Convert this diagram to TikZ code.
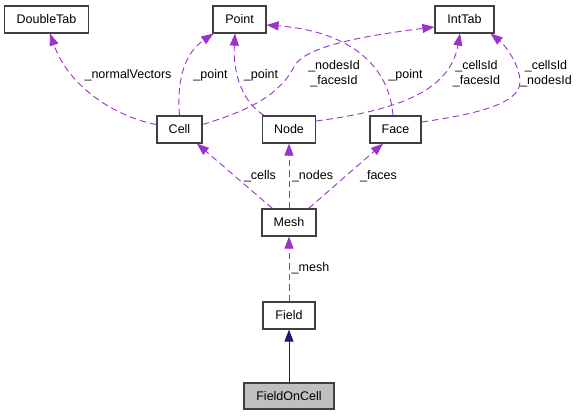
\documentclass[tikz,border=0pt]{standalone}
\usepackage{fontspec}
\setmainfont{Liberation Sans}
\usetikzlibrary{arrows.meta}
\definecolor{depcol}{HTML}{9A32CD}
\definecolor{inhcol}{HTML}{191970}
\definecolor{boxline}{HTML}{404040}
\newcommand{\lblfont}{\fontsize{12.5}{15}\selectfont}
\begin{document}
\begin{tikzpicture}[x=1pt,y=-1pt,
  box/.style={draw=boxline, line width=1.2pt, fill=white, minimum height=27pt, inner sep=0pt, font=\lblfont},
  dep/.style={draw=depcol, line width=0.9pt, dash pattern=on 6.5pt off 4pt, -{Triangle[length=12pt,width=9pt,fill=depcol]}},
  inh/.style={draw=inhcol, line width=0.9pt, -{Triangle[length=12pt,width=9pt,fill=inhcol]}},
  lbl/.style={inner sep=0pt, align=center, font=\lblfont}]
\fill[white] (0,0) rectangle (580,416);
\path[use as bounding box] (0,0) rectangle (580,416);

\node[box, minimum width=84pt] (DoubleTab) at (46.5,19.5) {DoubleTab};
\node[box, minimum width=53pt] (Point) at (239.5,19.5) {Point};
\node[box, minimum width=59pt] (IntTab) at (464.5,19.5) {IntTab};
\node[box, minimum width=45pt] (Cell) at (179.5,129.5) {Cell};
\node[box, minimum width=53pt] (Node) at (289,129.5) {Node};
\node[box, minimum width=51pt] (Face) at (395.5,129.5) {Face};
\node[box, minimum width=54pt] (Mesh) at (289,222.5) {Mesh};
\node[box, minimum width=52pt] (Field) at (289,315.5) {Field};
\node[box, minimum width=90pt, minimum height=26pt, fill=black!25] (FieldOnCell) at (289,396) {FieldOnCell};

% Cell -> DoubleTab
\draw[dep] ([yshift=5pt]Cell.west) .. controls (120,118) and (70,90) .. ([xshift=3.5pt]DoubleTab.south);
\node[lbl] (l1) at (128,75) {\_normalVectors};
% Cell -> Point
\draw[dep] (Cell.north) .. controls (177,85) and (182,55) .. ([xshift=1pt]Point.south west);
\node[lbl] (l2) at (210.5,75) {\_point};
% Node -> Point
\draw[dep] ([xshift=2pt]Node.north west) .. controls (240,100) and (233,70) .. ([xshift=-4.5pt]Point.south);
\node[lbl] (l3) at (261,75) {\_point};
% Cell -> IntTab
\draw[dep] ([yshift=5pt]Cell.east) .. controls (250,110) and (280,95) .. (295,65) .. controls (308,45) and (370,35) .. ([yshift=-7.5pt]IntTab.west);
\node[lbl] (l4) at (334,74) {\_nodesId\\\_facesId};
% Face -> Point
\draw[dep] ([xshift=-2.5pt]Face.north) .. controls (388,55) and (335,30) .. ([yshift=-5.5pt]Point.east);
\node[lbl] (l5) at (405.5,75) {\_point};
% Node -> IntTab
\draw[dep] ([yshift=8.5pt]Node.east) .. controls (400,110) and (450,90) .. ([xshift=-4.5pt]IntTab.south);
\node[lbl] (l6) at (476.5,74) {\_cellsId\\\_facesId};
% Face -> IntTab
\draw[dep] ([yshift=7.5pt]Face.east) .. controls (470,115) and (520,105) .. (520,82) .. controls (520,65) and (505,45) .. ([xshift=-4pt]IntTab.south east);
\node[lbl] (l7) at (546,74) {\_cellsId\\\_nodesId};
% Mesh -> Cell, Node, Face
\draw[dep] ([xshift=11pt]Mesh.north west) -- ([xshift=17.5pt]Cell.south);
\node[lbl] (l8) at (260,176) {\_cells};
\draw[dep] (Mesh.north) -- (Node.south);
\node[lbl] (l9) at (312.5,176) {\_nodes};
\draw[dep] ([xshift=-8pt]Mesh.north east) -- ([xshift=-12.5pt]Face.south);
\node[lbl] (l10) at (378.5,176) {\_faces};
% Field -> Mesh
\draw[dep] (Field.north) -- (Mesh.south);
\node[lbl] (l11) at (310.5,268) {\_mesh};
% FieldOnCell -> Field
\draw[inh] (FieldOnCell.north) -- (Field.south);
\end{tikzpicture}
\end{document}
